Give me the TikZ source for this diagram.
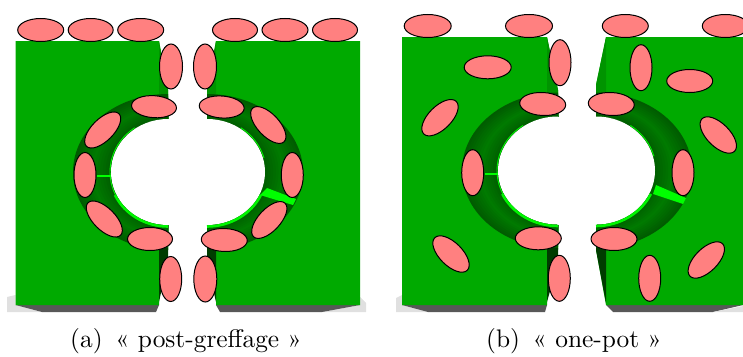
\documentclass[tikz,border=0pt]{standalone}
\definecolor{blockgreen}{RGB}{0,170,0}
\definecolor{flangegreen}{RGB}{0,148,0}
\definecolor{ringdark}{RGB}{0,92,0}
\definecolor{ringmid}{RGB}{0,122,0}
\definecolor{wedgedark}{RGB}{0,60,0}
\definecolor{rimgreen}{RGB}{0,245,0}
\definecolor{spokegreen}{RGB}{0,255,0}
\definecolor{blobpink}{RGB}{255,128,128}
\definecolor{shadedark}{RGB}{88,88,88}
\definecolor{shadelight}{RGB}{224,224,224}
\tikzset{
  blobstyle/.style={draw=black,fill=blobpink,line width=1pt},
  captionstyle/.style={anchor=base,font=\fontsize{10}{12}\selectfont,inner sep=0pt,scale=2.54},
  rimthick/.style={draw=rimgreen,line width=2.6pt},
  rimthin/.style={draw=rimgreen,line width=0.9pt}
}
% centre x, centre y (image pixels), angle, x radius, y radius
\newcommand{\blob}[5]{\draw[blobstyle,shift={(#1,-#2)},rotate=#3] (0,0) ellipse [x radius=#4pt,y radius=#5pt];}
% cx, cy, outer rx, outer ry, inner rx, inner ry, start angle (90 left half, -90 right half)
\newcommand{\halfring}[7]{%
  \foreach \i in {0,...,14}{%
    \pgfmathsetmacro{\tval}{\i/14}%
    \pgfmathsetmacro{\rxv}{#3+(#5-#3)*\tval}%
    \pgfmathsetmacro{\ryv}{#4+(#6-#4)*\tval}%
    \pgfmathsetmacro{\mixv}{100*(1-abs(2*\tval-1))}%
    \fill[ringmid!\mixv!ringdark] (#1,-#2) ++(#7:\rxv pt and \ryv pt)
       arc[start angle=#7,delta angle=180,x radius=\rxv pt,y radius=\ryv pt] -- cycle;%
  }%
  \fill[white] (#1,-#2) ++(#7:#5pt and #6pt)
       arc[start angle=#7,delta angle=180,x radius=#5pt,y radius=#6pt] -- cycle;%
  \fill[white] (#1-1,-#2+#6) rectangle (#1+1,-#2-#6);%
}
% cx, cy, rx, ry, a, b, style
\newcommand{\rimarc}[7]{\draw[#7] (#1,-#2) ++(#5:#3pt and #4pt) arc[start angle=#5,end angle=#6,x radius=#3pt,y radius=#4pt];}
\begin{document}
\begin{tikzpicture}[x=1pt,y=1pt]
\useasboundingbox (0,0) rectangle (743,-356);
% ---------- panel a: shadows
\fill[shadelight] (7,-297) -- (15.5,-295) -- (15.5,-305) -- (42,-312) -- (7,-312) -- cycle;
\fill[shadedark] (15.5,-305) -- (159,-305) -- (156,-312) -- (42,-312) -- cycle;
\fill[shadelight] (360,-297) -- (366,-303) -- (366,-312) -- (322,-312) -- (360,-305) -- cycle;
\fill[shadedark] (216,-305) -- (360,-305) -- (322,-312) -- (220,-312) -- cycle;
% panel a: blocks
\fill[blockgreen] (15.5,-41) -- (159,-41) -- (168,-90) -- (168,-250) -- (159,-250) -- (159,-305) -- (15.5,-305) -- cycle;
\fill[blockgreen] (216,-41) -- (360,-41) -- (360,-305) -- (216,-305) -- (216,-250) -- (207,-250) -- (207,-90) -- cycle;
\fill[flangegreen] (159,-41) -- (168,-90) -- (168,-98) -- (159,-96) -- cycle;
\fill[flangegreen] (216,-41) -- (207,-90) -- (207,-98) -- (216,-96) -- cycle;
\halfring{168}{172}{95}{78}{57}{53}{90}
\halfring{207}{172}{96}{78}{58}{53}{-90}
\fill[wedgedark] (159,-248) -- (168,-248) -- (168,-260) -- (159,-302) -- cycle;
\fill[wedgedark] (216,-248) -- (207,-248) -- (207,-262) -- (216,-302) -- cycle;
\rimarc{168}{172}{58}{54}{125}{205}{rimthin}
\rimarc{168}{172}{58.5}{54.5}{205}{270}{rimthick}
\rimarc{207}{172}{59}{54}{15}{55}{rimthin}
\rimarc{207}{172}{59.5}{54.5}{270}{335}{rimthick}
\draw[draw=spokegreen,line width=1.5pt] (97,-176) -- (111,-176);
\fill[spokegreen] (267,-188) -- (296,-199) -- (293,-205) -- (260,-195) -- cycle;
% panel a: blobs
\blob{40.7}{30}{0}{23}{11.5}
\blob{90.7}{30}{0}{22.5}{11.5}
\blob{140.7}{30}{0}{23}{11.5}
\blob{171}{66.5}{0}{11.5}{22.5}
\blob{154}{106.7}{-4}{22.5}{11}
\blob{102.7}{130}{45}{23}{11}
\blob{85}{175}{0}{11}{22.5}
\blob{104.3}{219}{-45}{23}{11}
\blob{150}{239}{0}{22.5}{11.5}
\blob{170.7}{279}{0}{11}{22.5}
\blob{235}{30}{0}{22.5}{11.5}
\blob{285}{30}{0}{23}{11.5}
\blob{335}{30}{0}{22.5}{11.5}
\blob{205}{66.5}{0}{11.5}{22.5}
\blob{221.7}{107}{-4}{22.5}{11}
\blob{268.3}{125}{-47}{23}{11}
\blob{292.3}{175}{0}{11}{22.5}
\blob{269.3}{220}{47}{23}{11}
\blob{224.3}{240}{-2}{23}{11.5}
\blob{205.3}{279}{0}{11.5}{23}
% ---------- panel b: shadows
\fill[shadelight] (396,-298) -- (402,-295) -- (402,-305) -- (428,-312) -- (396,-312) -- cycle;
\fill[shadedark] (402,-305) -- (547,-305) -- (545,-312) -- (428,-312) -- cycle;
\fill[shadedark] (606,-305) -- (743,-305) -- (713,-312) -- (613,-312) -- cycle;
\fill[shadelight] (713,-312) -- (743,-306) -- (743,-312) -- cycle;
% panel b: blocks
\fill[blockgreen] (402,-37) -- (547,-37) -- (558,-90) -- (558,-250) -- (547,-250) -- (547,-305) -- (402,-305) -- cycle;
\fill[blockgreen] (606,-37) -- (743,-37) -- (743,-305) -- (606,-305) -- (596,-250) -- (596,-85) -- cycle;
\fill[flangegreen] (547,-37) -- (558,-90) -- (558,-98) -- (547,-95) -- cycle;
\fill[flangegreen] (606,-37) -- (596,-85) -- (596,-98) -- (606,-94) -- cycle;
\halfring{558}{170.5}{96}{78}{60}{54}{90}
\halfring{596}{170.5}{96}{78}{59}{54}{-90}
\fill[wedgedark] (547,-248) -- (558,-248) -- (558,-262) -- (547,-302) -- cycle;
\fill[wedgedark] (606,-248) -- (596,-248) -- (596,-250) -- (606,-303) -- cycle;
\rimarc{558}{170.5}{61}{55}{125}{205}{rimthin}
\rimarc{558}{170.5}{61.5}{55.5}{205}{270}{rimthick}
\rimarc{596}{170.5}{60}{55}{15}{55}{rimthin}
\rimarc{596}{170.5}{60.5}{55.5}{270}{335}{rimthick}
\draw[draw=spokegreen,line width=1.5pt] (485,-174) -- (498,-174);
\fill[spokegreen] (656,-185) -- (686,-198) -- (683,-204) -- (653,-194) -- cycle;
% panel b: blobs
\blob{427.7}{26}{0}{23.5}{11.5}
\blob{529}{26}{0}{23.5}{11.5}
\blob{625.3}{26}{0}{23}{11.5}
\blob{725.3}{26}{0}{23}{11.5}
\blob{560}{62.7}{0}{11}{23}
\blob{487.7}{67.3}{0}{23.5}{11.5}
\blob{440}{117.7}{45}{23}{11.5}
\blob{542.7}{104}{-3}{23}{11.5}
\blob{472.7}{172.7}{0}{11}{23}
\blob{451}{254}{-45}{23}{11.5}
\blob{538.3}{238.3}{0}{23}{11.5}
\blob{559.3}{278.3}{0}{11}{23}
\blob{641}{67.7}{0}{11}{23}
\blob{689.7}{81}{0}{23}{11.5}
\blob{611.3}{104}{-3}{23}{11.5}
\blob{718.3}{135}{-45}{23}{11.5}
\blob{683}{172.7}{0}{11}{23}
\blob{614}{239}{0}{23}{11.5}
\blob{649.7}{278.3}{0}{11}{23}
\blob{706.3}{260}{45}{23}{11.5}
% captions
\node[captionstyle] (capa) at (186,-347) {(a)\enspace « post-greffage »};
\node[captionstyle] (capb) at (574,-347) {(b)\enspace « one-pot »};
\end{tikzpicture}
\end{document}
